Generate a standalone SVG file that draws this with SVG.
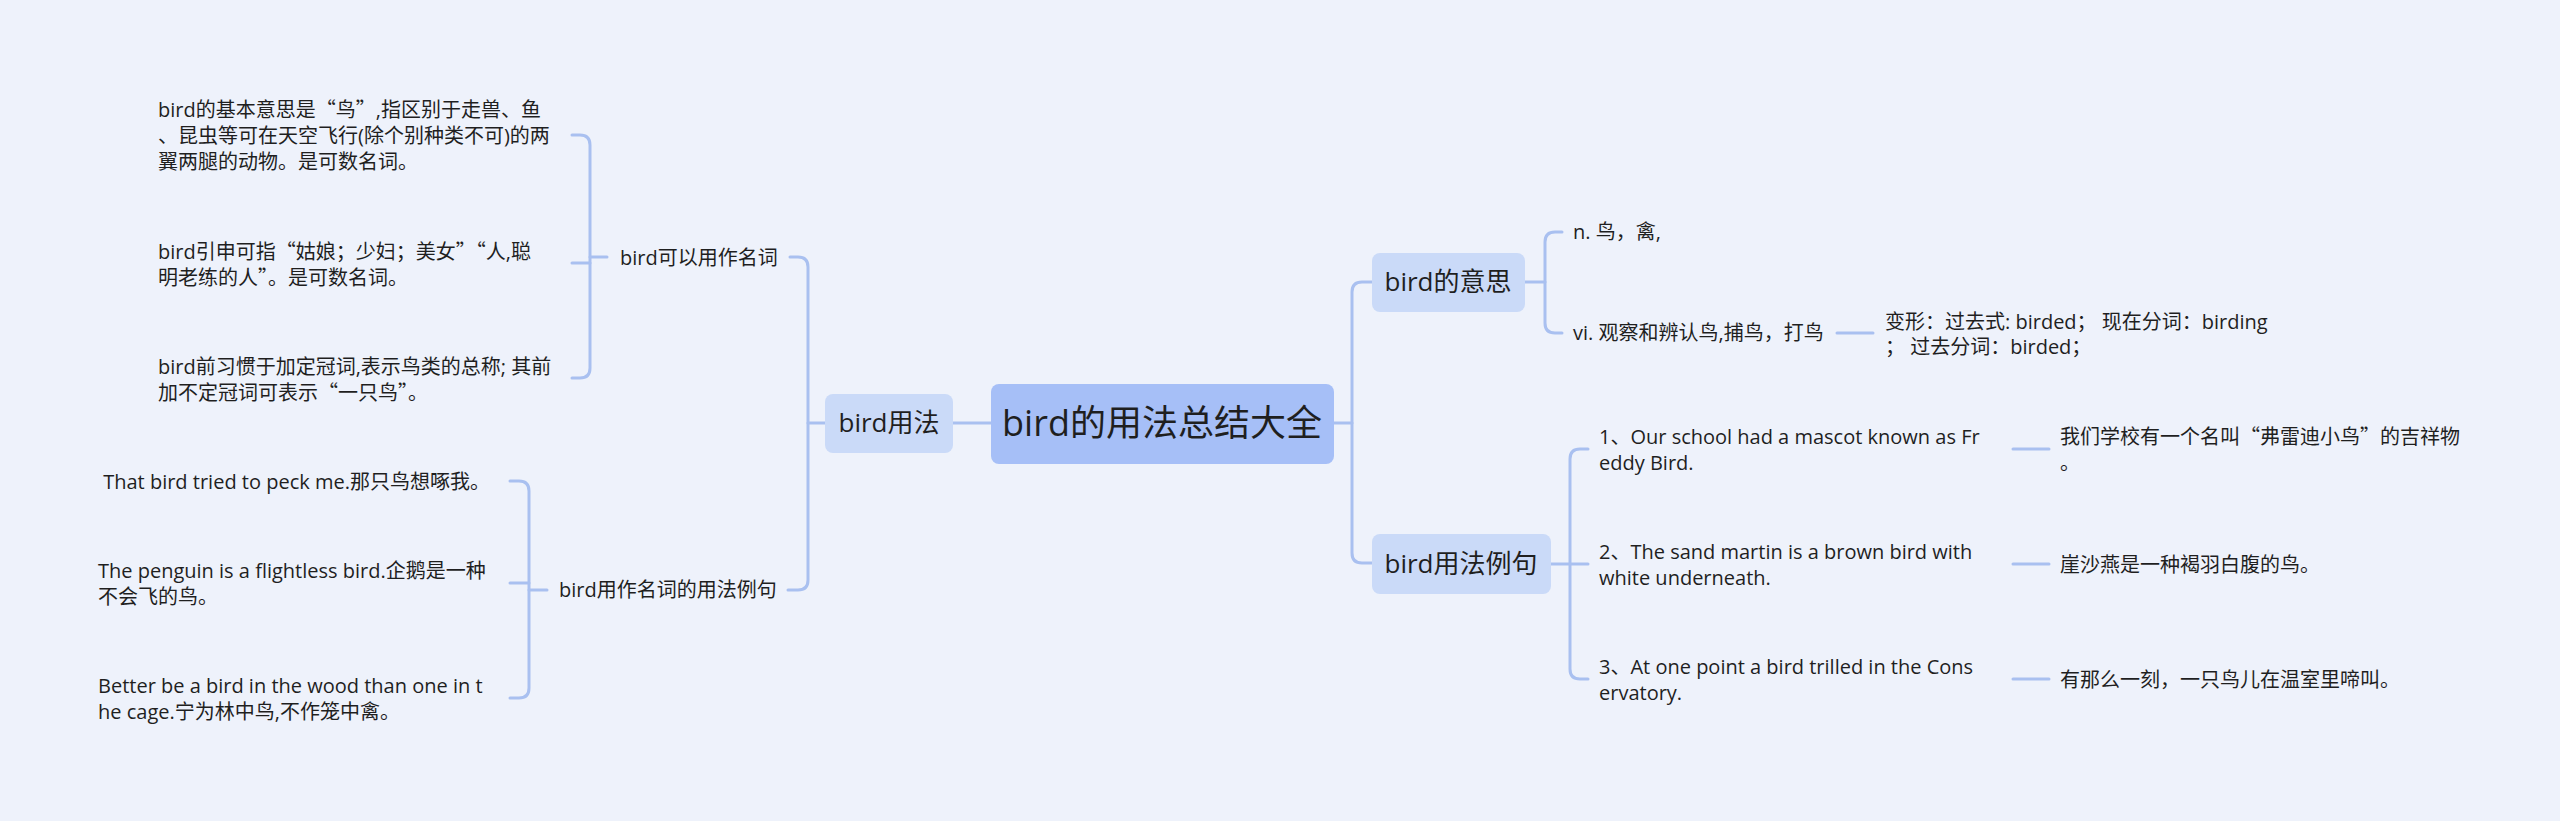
<svg xmlns="http://www.w3.org/2000/svg" width="2560" height="821" viewBox="0 0 2560 821">
<defs>
<style>
text{font-family:"Open Sans","Noto Sans CJK SC",sans-serif;fill:#1f1f1f;font-size:20px;}
.q{font-family:"Noto Sans CJK SC",sans-serif;}
.root{fill:#a6bff7;}
.sub{fill:#cadaf8;}
.t38{font-size:36px;}
.t26{font-size:26px;}
.mid{text-anchor:middle;}
#connectors path{fill:none;stroke:#a9c0f0;stroke-width:3;stroke-linecap:round;}
</style>
</defs>
<rect width="2560" height="821" fill="#eef2fb"/>
<g id="connectors">
<path d="M953,423 H991"/>
<path d="M790,257 H798 Q808,257 808,267 V580 Q808,590 798,590 H788"/>
<path d="M808,423 H825"/>
<path d="M572,135 H580 Q590,135 590,145 V368 Q590,378 580,378 H572"/>
<path d="M572,263 H590"/>
<path d="M590,257 H607"/>
<path d="M510,481 H519 Q529,481 529,491 V688 Q529,698 519,698 H510"/>
<path d="M510,583 H529"/>
<path d="M529,590 H547"/>
<path d="M1372,282 H1362 Q1352,282 1352,292 V553 Q1352,563 1362,563 H1372"/>
<path d="M1334,423 H1352"/>
<path d="M1562,232 H1555 Q1545,232 1545,242 V323 Q1545,333 1555,333 H1562"/>
<path d="M1525,282 H1545"/>
<path d="M1837,333 H1873"/>
<path d="M1588,449 H1580 Q1570,449 1570,459 V669 Q1570,679 1580,679 H1588"/>
<path d="M1551,564 H1588"/>
<path d="M2013,449 H2049"/>
<path d="M2013,564 H2049"/>
<path d="M2013,679 H2049"/>
</g>
<g id="root">
<rect class="root" x="991" y="384" width="343" height="80" rx="8"/>
<text class="t38 mid" x="1162" y="436">bird的用法总结大全</text>
</g>
<g id="usage">
<rect class="sub" x="825" y="394" width="128" height="59" rx="8"/>
<text class="t26 mid" x="889" y="432">bird用法</text>
</g>
<g id="noun">
<text x="620" y="265">bird可以用作名词</text>
</g>
<g id="noun-1">
<text x="158" y="117">bird的基本意思是<tspan class="q">“</tspan>鸟<tspan class="q">”</tspan>,指区别于走兽、鱼<tspan x="158" dy="26">、昆虫等可在天空飞行(除个别种类不可)的两</tspan><tspan x="158" dy="26">翼两腿的动物。是可数名词。</tspan></text>
</g>
<g id="noun-2">
<text x="158" y="259">bird引申可指<tspan class="q">“</tspan>姑娘；少妇；美女<tspan class="q">”</tspan><tspan class="q">“</tspan>人,聪<tspan x="158" dy="26">明老练的人<tspan class="q">”</tspan>。是可数名词。</tspan></text>
</g>
<g id="noun-3">
<text x="158" y="374">bird前习惯于加定冠词,表示鸟类的总称; 其前<tspan x="158" dy="26">加不定冠词可表示<tspan class="q">“</tspan>一只鸟<tspan class="q">”</tspan>。</tspan></text>
</g>
<g id="noun-examples">
<text x="559" y="597">bird用作名词的用法例句</text>
</g>
<g id="ex-1">
<text x="98" y="489" xml:space="preserve"> That bird tried to peck me.那只鸟想啄我。</text>
</g>
<g id="ex-2">
<text x="98" y="578">The penguin is a flightless bird.企鹅是一种<tspan x="98" dy="26">不会飞的鸟。</tspan></text>
</g>
<g id="ex-3">
<text x="98" y="693">Better be a bird in the wood than one in t<tspan x="98" dy="26">he cage.宁为林中鸟,不作笼中禽。</tspan></text>
</g>
<g id="meaning">
<rect class="sub" x="1372" y="253" width="153" height="59" rx="8"/>
<text class="t26 mid" x="1448" y="291">bird的意思</text>
</g>
<g id="meaning-n">
<text x="1573" y="239">n. 鸟，禽,</text>
</g>
<g id="meaning-vi">
<text x="1573" y="340">vi. 观察和辨认鸟,捕鸟，打鸟</text>
</g>
<g id="forms">
<text x="1885" y="329" xml:space="preserve">变形：过去式: birded； 现在分词：birding<tspan x="1885" dy="25">； 过去分词：birded；</tspan></text>
</g>
<g id="sentences">
<rect class="sub" x="1372" y="534" width="179" height="60" rx="8"/>
<text class="t26 mid" x="1461" y="573">bird用法例句</text>
</g>
<g id="s-1">
<text x="1599" y="444">1、Our school had a mascot known as Fr<tspan x="1599" dy="26">eddy Bird.</tspan></text>
</g>
<g id="s-2">
<text x="1599" y="559">2、The sand martin is a brown bird with<tspan x="1599" dy="26">white underneath.</tspan></text>
</g>
<g id="s-3">
<text x="1599" y="674">3、At one point a bird trilled in the Cons<tspan x="1599" dy="26">ervatory.</tspan></text>
</g>
<g id="t-1">
<text x="2060" y="444">我们学校有一个名叫<tspan class="q">“</tspan>弗雷迪小鸟<tspan class="q">”</tspan>的吉祥物<tspan x="2060" dy="26">。</tspan></text>
</g>
<g id="t-2">
<text x="2060" y="572">崖沙燕是一种褐羽白腹的鸟。</text>
</g>
<g id="t-3">
<text x="2060" y="687">有那么一刻，一只鸟儿在温室里啼叫。</text>
</g>
</svg>
